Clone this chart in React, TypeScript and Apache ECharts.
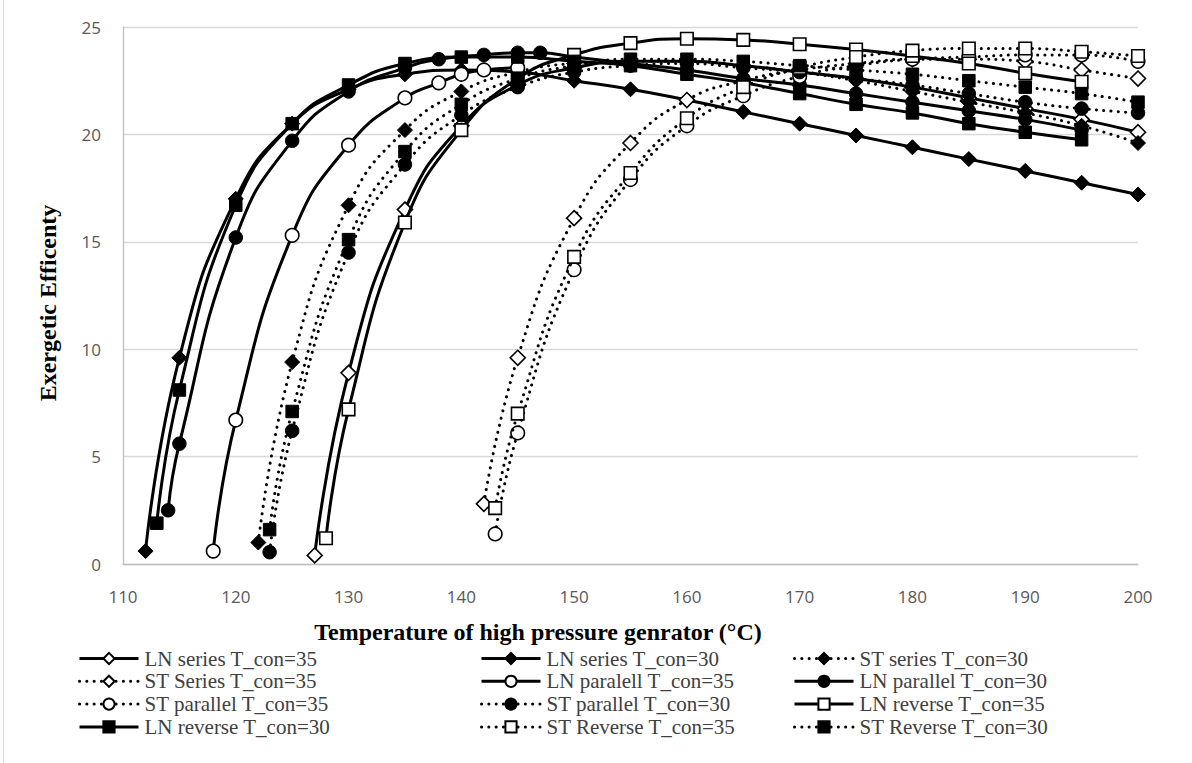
import React, { useEffect, useRef } from "react";
import * as echarts from "echarts";

// ---- data (x = temperature °C, y = exergetic efficiency) ----
const lnSeries35 = [[127,0.4],[130,8.9],[135,16.5],[140,20.4],[145,22.3],[150,23.1],[155,23.4],[160,23.4],[165,23.2],[170,22.9],[175,22.6],[180,22.2],[185,21.7],[190,21.2],[195,20.7],[200,20.1]];
const lnSeries30 = [[112,0.6],[115,9.6],[120,17.0],[125,20.5],[130,22.1],[135,22.8],[140,23.0],[145,22.9],[150,22.5],[155,22.1],[160,21.6],[165,21.05],[170,20.5],[175,19.95],[180,19.4],[185,18.85],[190,18.3],[195,17.75],[200,17.2]];
const stSeries30 = [[122,1.0],[125,9.4],[130,16.7],[135,20.2],[140,22.0],[145,22.9],[150,23.3],[155,23.4],[160,23.4],[165,23.2],[170,22.9],[175,22.5],[180,22.0],[185,21.5],[190,21.0],[195,20.4],[200,19.6]];
const stSeries35 = [[142,2.8],[145,9.6],[150,16.1],[155,19.6],[160,21.6],[165,22.5],[170,23.0],[175,23.3],[180,23.5],[185,23.5],[190,23.4],[195,23.0],[200,22.6]];
const lnParallel35 = [[118,0.6],[120,6.7],[125,15.3],[130,19.5],[135,21.7],[138,22.4],[140,22.8],[142,23.0],[145,23.1]];
const lnParallel30 = [[114,2.5],[115,5.6],[120,15.2],[125,19.7],[130,22.0],[135,23.1],[138,23.5],[142,23.7],[145,23.8],[147,23.8],[150,23.6],[155,23.3],[160,23.0],[165,22.6],[170,22.3],[175,21.9],[180,21.5],[185,21.1],[190,20.7],[195,20.2]];
const stParallel35 = [[143,1.4],[145,6.1],[150,13.7],[155,17.9],[160,20.4],[165,21.8],[170,22.7],[175,23.2],[180,23.5],[185,23.6],[190,23.7],[195,23.7],[200,23.4]];
const stParallel30 = [[123,0.55],[125,6.2],[130,14.5],[135,18.6],[140,20.9],[145,22.2],[150,22.9],[155,23.2],[160,23.3],[165,23.1],[170,22.9],[175,22.6],[180,22.3],[185,21.9],[190,21.5],[195,21.2],[200,21.0]];
const lnReverse35 = [[128,1.2],[130,7.2],[135,15.9],[140,20.2],[145,22.6],[150,23.7],[155,24.25],[160,24.45],[165,24.4],[170,24.2],[175,23.95],[180,23.65],[185,23.3],[190,22.85],[195,22.45]];
const lnReverse30 = [[113,1.9],[115,8.1],[120,16.7],[125,20.5],[130,22.3],[135,23.3],[140,23.6],[145,23.6],[150,23.4],[155,23.2],[160,22.8],[165,22.4],[170,21.9],[175,21.4],[180,21.0],[185,20.5],[190,20.1],[195,19.75]];
const stReverse35 = [[143,2.6],[145,7.0],[150,14.3],[155,18.2],[160,20.75],[165,22.2],[170,23.1],[175,23.6],[180,23.9],[185,24.0],[190,24.0],[195,23.85],[200,23.65]];
const stReverse30 = [[123,1.6],[125,7.1],[130,15.1],[135,19.2],[140,21.4],[145,22.6],[150,23.2],[155,23.5],[160,23.5],[165,23.4],[170,23.2],[175,23.0],[180,22.8],[185,22.5],[190,22.2],[195,21.9],[200,21.5]];

const seriesNames = [
  "LN series T_con=35", "LN series T_con=30", "ST series T_con=30",
  "ST Series T_con=35", "LN paralell T_con=35", "LN parallel T_con=30",
  "ST parallel T_con=35", "ST parallel T_con=30", "LN reverse T_con=35",
  "LN reverse T_con=30", "ST Reverse T_con=35", "ST Reverse T_con=30",
];
const seriesData = [lnSeries35, lnSeries30, stSeries30, stSeries35, lnParallel35, lnParallel30, stParallel35, stParallel30, lnReverse35, lnReverse30, stReverse35, stReverse30];
const seriesDotted = [false, false, true, true, false, false, true, true, false, false, true, true];
const seriesSymbol = ["diamond", "diamond", "diamond", "diamond", "circle", "circle", "circle", "circle", "rect", "rect", "rect", "rect"];
const seriesFilled = [false, true, true, false, false, true, false, true, false, true, false, true];

const xTitle = "Temperature of high pressure genrator (°C)";
const yTitle = "Exergetic Efficenty";

const symbolSizes: Record<string, number> = { diamond: 15, circle: 13.5, rect: 12.5 };

export default function App() {
  const ref = useRef<HTMLDivElement>(null);
  useEffect(() => {
    document.body.style.margin = "0";
    const chart = echarts.init(ref.current!, undefined, { renderer: "svg" });
    const series = seriesNames.map((name, i) => ({
      name,
      type: "line",
      data: seriesData[i],
      smooth: 0.5,
      showSymbol: true,
      showAllSymbol: true,
      symbol: seriesSymbol[i],
      symbolSize: symbolSizes[seriesSymbol[i]],
      lineStyle: seriesDotted[i]
        ? { color: "#000", width: 3, type: [0.1, 7.2], cap: "round" }
        : { color: "#000", width: 3, type: "solid" },
      itemStyle: seriesFilled[i]
        ? { color: "#000", borderColor: "#000", borderWidth: 1 }
        : { color: "#fff", borderColor: "#000", borderWidth: 1.6 },
      emphasis: { disabled: true },
      z: 2 + i,
    }));
    const legendCommon = {
      orient: "vertical",
      top: 648,
      padding: 0,
      itemWidth: 59,
      itemHeight: 14,
      itemGap: 1.8,
      selectedMode: false,
      lineStyle: { width: 3 },
      textStyle: { fontFamily: "Liberation Serif", fontSize: 21, color: "#404040", lineHeight: 21, padding: [0, 0, 0, 1] },
    };
    const option: any = {
      animation: false,
      backgroundColor: "#fff",
      grid: { left: 123, right: 54, top: 27, bottom: 199, containLabel: false },
      xAxis: {
        type: "value",
        min: 110,
        max: 200,
        interval: 10,
        axisLine: { show: true, lineStyle: { color: "#bfbfbf", width: 1.3 } },
        axisTick: { show: false },
        splitLine: { show: false },
        axisLabel: { fontFamily: "Open Sans", fontSize: 17, color: "#595959", margin: 24 },
      },
      yAxis: {
        type: "value",
        min: 0,
        max: 25,
        interval: 5,
        axisLine: { show: true, lineStyle: { color: "#bfbfbf", width: 1.3 } },
        axisTick: { show: false },
        splitLine: { show: true, lineStyle: { color: "#d9d9d9", width: 1.3 } },
        axisLabel: { fontFamily: "Open Sans", fontSize: 17, color: "#595959", margin: 22 },
      },
      legend: [
        { ...legendCommon, left: 78, data: [seriesNames[0], seriesNames[3], seriesNames[6], seriesNames[9]] },
        { ...legendCommon, left: 480, data: [seriesNames[1], seriesNames[4], seriesNames[7], seriesNames[10]] },
        { ...legendCommon, left: 793, data: [seriesNames[2], seriesNames[5], seriesNames[8], seriesNames[11]] },
      ],
      graphic: [
        { type: "line", shape: { x1: 3.5, y1: 0, x2: 3.5, y2: 763 }, style: { stroke: "#d9d9d9", lineWidth: 1 } },
        {
          type: "text", x: 538, y: 632,
          style: { text: xTitle, font: "bold 24px 'Liberation Serif'", fill: "#000", align: "center", verticalAlign: "middle" },
        },
        {
          type: "text", x: 48, y: 303, rotation: Math.PI / 2,
          style: { text: yTitle, font: "bold 24px 'Liberation Serif'", fill: "#000", align: "center", verticalAlign: "middle" },
        },
      ],
      series,
    };
    chart.setOption(option);
    return () => chart.dispose();
  }, []);
  return <div ref={ref} style={{ width: 1192, height: 763 }} />;
}
